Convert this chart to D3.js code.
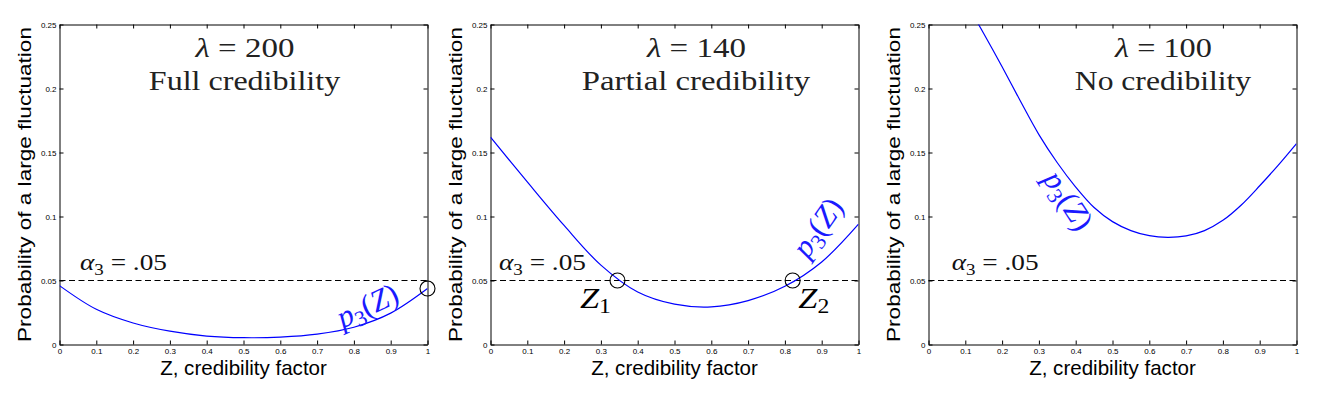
<!DOCTYPE html>
<html>
<head>
<meta charset="utf-8">
<script src="https://cdn.jsdelivr.net/npm/d3@7"></script>
<style>
  html, body { margin: 0; padding: 0; background: #fff; }
  svg { display: block; }
</style>
</head>
<body>
<svg id="chart" width="1324" height="397"></svg>
<script>
// ---------------- data ----------------
const lambdas = [200, 140, 100];
const subtitles = ["Full credibility", "Partial credibility", "No credibility"];
const xTicks = [0, 0.1, 0.2, 0.3, 0.4, 0.5, 0.6, 0.7, 0.8, 0.9, 1];
const yTicks = [0, 0.05, 0.1, 0.15, 0.2, 0.25];
const alpha3 = 0.05;

const zCoarse = [0, 0.1, 0.2, 0.3, 0.4, 0.5, 0.6, 0.7, 0.8, 0.9, 1.0];
const p3_lambda200 = [0.046, 0.0275, 0.0168, 0.0104, 0.0066, 0.0053, 0.0058, 0.0081, 0.0135, 0.0245, 0.0437];
const p3_lambda140 = [0.162, 0.127, 0.093, 0.062, 0.041, 0.0315, 0.0294, 0.0343, 0.0455, 0.0645, 0.094];

const zFine = [0, 0.05, 0.1, 0.15, 0.2, 0.25, 0.3, 0.35, 0.4, 0.45, 0.5, 0.55, 0.6, 0.65, 0.7, 0.75, 0.8, 0.85, 0.9, 0.95, 1.0];
const p3_lambda100 = [0.32, 0.293, 0.268, 0.243, 0.217, 0.19, 0.164, 0.142, 0.123, 0.107, 0.096, 0.089, 0.085, 0.0837, 0.0848, 0.089, 0.097, 0.109, 0.124, 0.14, 0.157];

// marked points (circles)
const marks200 = [{ z: 1.0, p: 0.0437 }];
const marks140 = [{ z: 0.345, p: 0.05, name: "1" }, { z: 0.821, p: 0.05, name: "2" }];
const marks100 = [];

const panels = [
  { z: zCoarse, p: p3_lambda200, marks: marks200 },
  { z: zCoarse, p: p3_lambda140, marks: marks140 },
  { z: zFine,   p: p3_lambda100, marks: marks100 }
];

// ---------------- layout ----------------
const plotLefts = [59.5, 490.5, 928.5];
const plotW = 368;
const plotTop = 24.5, plotBottom = 344.5;
const titleX = [245, 696.5, 1163.5];
const titleW1 = [100, 100, 98];
const titleW2 = [192, 229, 177];
const alphaX = [80, 499, 951.7];
const p3Label = [
  { x: 367, y: 305, rot: -25 },
  { x: 817, y: 227, rot: -55 },
  { x: 1069, y: 200, rot: 57 }
];
const subLabelX = [580, 798.3];

const svg = d3.select("#chart");
svg.append("rect").attr("width", 1324).attr("height", 397).attr("fill", "#fff");

const SERIF = "'Liberation Serif', 'DejaVu Serif', serif";
const SANS = "'Liberation Sans', Arial, sans-serif";

// helper: composite math-ish text, optional width fit
function label(parent, o, parts) {
  const g = parent.append("g")
    .attr("transform", `translate(${o.x},${o.y}) rotate(${o.rot || 0})`);
  const t = g.append("text")
    .attr("x", 0).attr("y", 0)
    .attr("text-anchor", o.anchor || "start")
    .attr("font-family", o.family || SERIF)
    .attr("font-size", o.size)
    .attr("fill", o.fill || "#111");
  parts.forEach(pt => {
    const s = t.append("tspan").text(pt.t);
    if (pt.it) s.attr("font-style", "italic");
    if (pt.size) s.attr("font-size", pt.size);
    if (pt.dy) s.attr("dy", pt.dy);
  });
  if (o.width) {
    const bw = t.node().getBBox().width;
    if (bw > 0) t.attr("transform", `scale(${o.width / bw},1)`);
  }
  return g;
}

panels.forEach((pd, i) => {
  const L = plotLefts[i];
  const x = d3.scaleLinear().domain([0, 1]).range([L, L + plotW]);
  const y = d3.scaleLinear().domain([0, 0.25]).range([plotBottom, plotTop]);
  const g = svg.append("g");

  // clip
  const clipId = "clip" + i;
  svg.append("clipPath").attr("id", clipId)
    .append("rect").attr("x", L).attr("y", plotTop).attr("width", plotW).attr("height", plotBottom - plotTop);

  // axes
  const fmt = d => String(+d.toFixed(2));
  const axB = g.append("g").attr("transform", `translate(0,${plotBottom})`)
    .call(d3.axisBottom(x).tickValues(xTicks).tickFormat(fmt).tickSizeInner(-4).tickSizeOuter(0).tickPadding(4));
  const axT = g.append("g").attr("transform", `translate(0,${plotTop})`)
    .call(d3.axisTop(x).tickValues(xTicks).tickFormat("").tickSizeInner(-4).tickSizeOuter(0));
  const axL = g.append("g").attr("transform", `translate(${L},0)`)
    .call(d3.axisLeft(y).tickValues(yTicks).tickFormat(fmt).tickSizeInner(-4).tickSizeOuter(0).tickPadding(3));
  const axR = g.append("g").attr("transform", `translate(${L + plotW},0)`)
    .call(d3.axisRight(y).tickValues(yTicks).tickFormat("").tickSizeInner(-4).tickSizeOuter(0));
  [axB, axT, axL, axR].forEach(a => {
    a.selectAll("path, line").attr("stroke", "#000").attr("stroke-width", 1);
    a.selectAll("text").attr("font-family", SANS).attr("font-size", 8).attr("fill", "#000");
  });

  // threshold
  g.append("line")
    .attr("x1", x(0)).attr("x2", x(1))
    .attr("y1", y(alpha3)).attr("y2", y(alpha3))
    .attr("stroke", "#000").attr("stroke-width", 1).attr("stroke-dasharray", "6,3.5");

  // curve
  const pts = pd.z.map((z, k) => [z, pd.p[k]]);
  g.append("path")
    .attr("clip-path", `url(#${clipId})`)
    .attr("d", d3.line().x(d => x(d[0])).y(d => y(d[1])).curve(d3.curveCatmullRom.alpha(0.5))(pts))
    .attr("fill", "none").attr("stroke", "#0000ff").attr("stroke-width", 1.2);

  // circles
  g.selectAll("circle.mk").data(pd.marks).join("circle")
    .attr("cx", d => x(d.z)).attr("cy", d => y(d.p)).attr("r", 7.5)
    .attr("fill", "none").attr("stroke", "#000").attr("stroke-width", 1.1);

  // Z1 / Z2 labels
  pd.marks.filter(m => m.name).forEach((m, k) => {
    label(g, { x: subLabelX[k], y: 308.3, size: 29, width: 31, fill: "#000" },
      [{ t: "Z", it: true }, { t: m.name, size: 20, dy: 5 }]);
  });

  // titles
  label(g, { x: titleX[i], y: 57.3, size: 28, anchor: "middle", width: titleW1[i], fill: "#222" },
    [{ t: "λ", it: true }, { t: " = " + lambdas[i] }]);
  label(g, { x: titleX[i] - 0.5, y: 90, size: 27, anchor: "middle", width: titleW2[i], fill: "#222" },
    [{ t: subtitles[i] }]);

  // alpha label
  label(g, { x: alphaX[i], y: 270, size: 23, width: 87, fill: "#111" },
    [{ t: "α", it: true }, { t: "3", size: 16, dy: 5 }, { t: " = .05", dy: -5 }]);

  // p3(Z) label
  const pl = p3Label[i];
  label(g, { x: pl.x, y: pl.y, rot: pl.rot, size: 31, anchor: "middle", fill: "#1a1aff" },
    [{ t: "p", it: true }, { t: "3", size: 22, dy: 6 }, { t: "(", dy: -6 }, { t: "Z", it: true }, { t: ")" }])
    .select("text").attr("dy", "0.35em");

  // axis titles
  label(g, { x: L + plotW / 2, y: 375, size: 20.5, anchor: "middle", family: SANS, width: 167, fill: "#000" },
    [{ t: "Z, credibility factor" }]);
  label(g, { x: L - 29, y: (plotTop + plotBottom) / 2, rot: -90, size: 19, anchor: "middle", family: SANS, width: 315, fill: "#000" },
    [{ t: "Probability of a large fluctuation" }]);
});
</script>
</body>
</html>
